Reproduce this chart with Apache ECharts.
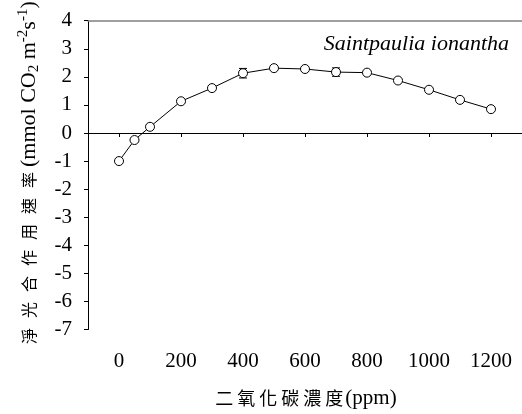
<!DOCTYPE html>
<html>
<head>
<meta charset="utf-8">
<script src="https://cdn.jsdelivr.net/npm/echarts@6/dist/echarts.min.js"></script>
<style>
html,body{margin:0;padding:0;background:#fff;}
#chart{width:522px;height:414px;}
</style>
</head>
<body>
<div id="chart"></div>
<script>
var co2 = [0, 50, 100, 200, 300, 400, 500, 600, 700, 800, 900, 1000, 1100, 1200];
var rate = [-1.0, -0.25, 0.22, 1.13, 1.60, 2.13, 2.31, 2.28, 2.17, 2.15, 1.87, 1.54, 1.18, 0.85];
var rateErr = [0.05, 0.05, 0.06, 0.05, 0.07, 0.17, 0.06, 0.07, 0.15, 0.06, 0.06, 0.05, 0.06, 0.06];
var xTicks = [0, 200, 400, 600, 800, 1000, 1200];
var speciesName = 'Saintpaulia ionantha';
var xTitleCJK = '二氧化碳濃度';
var yTitleCJK = '淨光合作用速率';

var serif = '"Liberation Serif", "Noto Sans CJK TC", serif';
var cjk = '"Noto Sans CJK TC", sans-serif';
var chart = echarts.init(document.getElementById('chart'), null, {renderer: 'canvas'});

var lineData = co2.map(function (x, i) { return [x, rate[i]]; });
var errData = co2.map(function (x, i) { return [x, rate[i] - rateErr[i], rate[i] + rateErr[i]]; });

function spaced(str, tag) {
  return str.split('').map(function (c) { return '{' + tag + '|' + c + '}'; }).join('');
}

chart.setOption({
  animation: false,
  backgroundColor: '#fff',
  grid: {left: 88, top: 20, right: -2.4, bottom: 81, containLabel: false},
  xAxis: [{
    type: 'value', min: -100, max: 1300,
    position: 'bottom',
    splitLine: {show: false},
    axisLine: {lineStyle: {color: '#000', width: 1}},
    axisTick: {show: true, inside: false, length: 4, customValues: xTicks, lineStyle: {color: '#000'}},
    axisLabel: {customValues: xTicks, fontFamily: serif, fontSize: 21, color: '#000', margin: 21,
      formatter: function (v) { return String(v); }},
    name: spaced(xTitleCJK, 'c') + '{l|(ppm)}',
    nameLocation: 'middle',
    nameGap: 57,
    nameTextStyle: {
      fontFamily: serif, fontSize: 21, color: '#000',
      rich: {
        c: {fontFamily: cjk, fontSize: 18, color: '#000', width: 22, align: 'center', lineHeight: 24},
        l: {fontFamily: serif, fontSize: 21, color: '#000', lineHeight: 24}
      }
    }
  }, {
    type: 'value', min: -100, max: 1300,
    position: 'top',
    splitLine: {show: false},
    axisLine: {show: true, lineStyle: {color: '#808080', width: 1.5}},
    axisTick: {show: false},
    axisLabel: {show: false}
  }],
  yAxis: {
    type: 'value', min: -7, max: 4, interval: 1,
    splitLine: {show: false},
    axisLine: {show: true, onZero: false, lineStyle: {color: '#000', width: 1}},
    axisTick: {show: true, inside: false, length: 4, lineStyle: {color: '#000'}},
    axisLabel: {fontFamily: serif, fontSize: 21, color: '#000', margin: 16},
    name: spaced(yTitleCJK, 'c') + '{l|(mmol CO}{sub|2}{l| m}{sup|-2}{l|s}{sup|-1}{l|)}',
    nameLocation: 'middle',
    nameGap: 46,
    nameRotate: 90,
    nameTextStyle: {
      fontFamily: serif, fontSize: 22, color: '#000', lineHeight: 26,
      rich: {
        c: {fontFamily: cjk, fontSize: 16, color: '#000', width: 26, align: 'center', lineHeight: 26},
        l: {fontFamily: serif, fontSize: 22, color: '#000', lineHeight: 26},
        sub: {fontFamily: serif, fontSize: 15, color: '#000', verticalAlign: 'bottom', lineHeight: 26},
        sup: {fontFamily: serif, fontSize: 15, color: '#000', verticalAlign: 'top', lineHeight: 26}
      }
    }
  },
  graphic: [{
    type: 'text',
    right: 13,
    top: 33,
    style: {text: speciesName, font: 'italic 22px "Liberation Serif", serif', fill: '#000'}
  }],
  series: [{
    type: 'line',
    xAxisIndex: 0,
    data: lineData,
    symbol: 'none',
    lineStyle: {color: '#000', width: 1},
    markLine: {
      silent: true,
      symbol: 'none',
      label: {show: false},
      lineStyle: {color: '#000', width: 1, type: [8, 4]},
      data: [{yAxis: 0}]
    },
    z: 2
  }, {
    type: 'custom',
    xAxisIndex: 0,
    data: errData,
    z: 3,
    renderItem: function (params, api) {
      var x = api.value(0);
      var lo = api.coord([x, api.value(1)]);
      var hi = api.coord([x, api.value(2)]);
      var hw = 4;
      var st = {stroke: '#000', lineWidth: 1};
      return {type: 'group', children: [
        {type: 'line', shape: {x1: lo[0], y1: lo[1], x2: hi[0], y2: hi[1]}, style: st},
        {type: 'line', shape: {x1: lo[0] - hw, y1: lo[1], x2: lo[0] + hw, y2: lo[1]}, style: st},
        {type: 'line', shape: {x1: hi[0] - hw, y1: hi[1], x2: hi[0] + hw, y2: hi[1]}, style: st}
      ]};
    }
  }, {
    type: 'scatter',
    xAxisIndex: 0,
    data: lineData,
    symbol: 'circle',
    symbolSize: 9,
    itemStyle: {color: '#fff', borderColor: '#000', borderWidth: 1, opacity: 1},
    z: 4
  }]
});
</script>
</body>
</html>
